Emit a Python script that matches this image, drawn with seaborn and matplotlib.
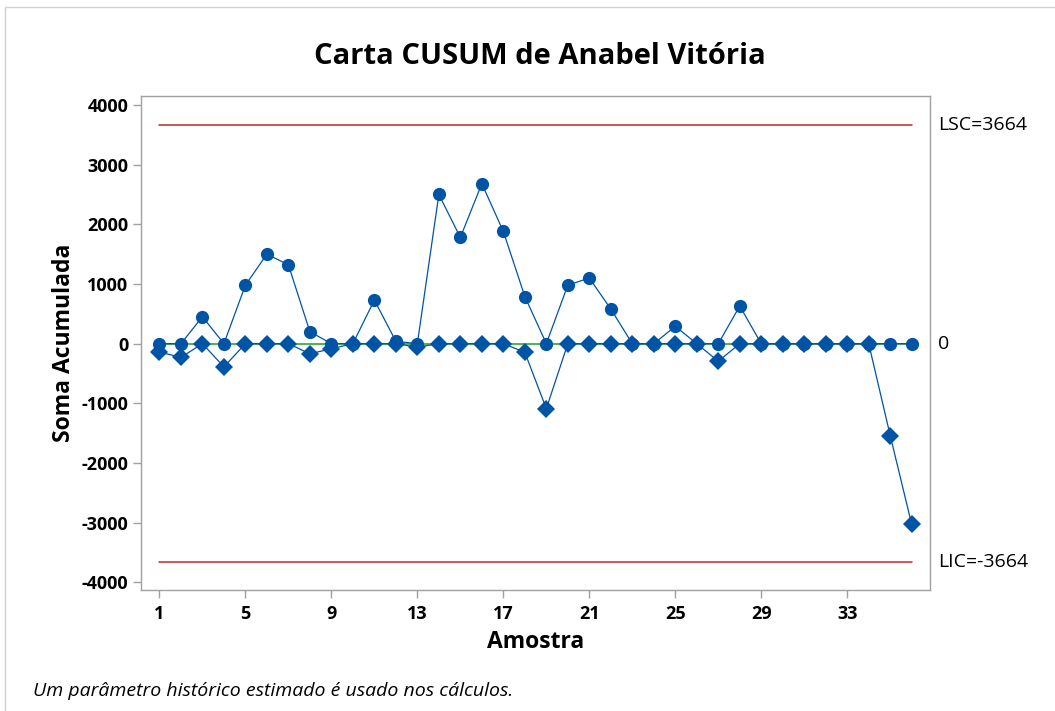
import numpy as np
import pandas as pd
import seaborn as sns
import matplotlib.pyplot as plt
from matplotlib.patches import Rectangle
import matplotlib.transforms as mtransforms

amostras = list(range(1, 37))
cusum_sup = [0, 0, 450, 0, 980, 1500, 1320, 200, 0, 0, 730, 40, 0, 2500, 1780, 2680, 1880, 790,
             0, 980, 1100, 580, 0, 0, 290, 0, 0, 630, 0, 0, 0, 0, 0, 0, 0, 0]
cusum_inf = [-140, -230, 0, -390, 0, 0, 0, -170, -85, 0, 0, 0, -60, 0, 0, 0, 0, -145,
             -1090, 0, 0, 0, 0, 0, 0, 0, -295, 0, 0, 0, 0, 0, 0, 0, -1540, -3030]
lsc = 3664
lic = -3664
centro = 0
y_ticks = [-4000, -3000, -2000, -1000, 0, 1000, 2000, 3000, 4000]
x_ticks = [1, 5, 9, 13, 17, 21, 25, 29, 33]

df = pd.DataFrame({'Amostra': amostras, 'sup': cusum_sup, 'inf': cusum_inf})

sns.set_style('white')
plt.rcParams['font.family'] = ['Open Sans', 'DejaVu Sans']
plt.rcParams['axes.unicode_minus'] = False
plt.rcParams['text.color'] = 'black'
plt.rcParams['axes.labelcolor'] = 'black'

azul = '#0054A6'
cinza = '#A0A0A0'

fig = plt.figure(figsize=(10.55, 7.11), dpi=100)
ax = fig.add_axes([0.1334, 0.170, 0.8815 - 0.1334, 0.865 - 0.170])

# limites e linha central
ax.plot([amostras[0], amostras[-1]], [lsc, lsc], color='#C0282D', lw=1.1, zorder=1)
ax.plot([amostras[0], amostras[-1]], [lic, lic], color='#C0282D', lw=1.1, zorder=1)
ax.plot([amostras[0], amostras[-1]], [centro, centro], color='#1E9E1E', lw=1.1, zorder=1)

sns.lineplot(data=df, x='Amostra', y='sup', color=azul, marker='o', markersize=9.5,
             markeredgewidth=0, linewidth=0.9, ax=ax, zorder=3)
sns.lineplot(data=df, x='Amostra', y='inf', color=azul, marker='D', markersize=9,
             markeredgewidth=0, linewidth=0.9, ax=ax, zorder=4)

ax.set_xlim(0.13, 36.85)
ax.set_ylim(-4130, 4150)
ax.set_xticks(x_ticks)
ax.set_yticks(y_ticks)
ax.tick_params(axis='both', direction='out', length=6, width=1, color=cinza,
               labelcolor='black', labelsize=13, bottom=True, left=True)
ax.tick_params(axis='y', pad=3)
ax.tick_params(axis='x', pad=5)
for lab in ax.get_xticklabels() + ax.get_yticklabels():
    lab.set_fontweight('bold')
for sp in ax.spines.values():
    sp.set_color(cinza)
    sp.set_linewidth(1)

ax.set_xlabel('Amostra', fontsize=16.5, fontweight='bold', labelpad=5)
ax.set_ylabel('Soma Acumulada', fontsize=16.5, fontweight='bold', labelpad=4)

trans = mtransforms.blended_transform_factory(ax.transAxes, ax.transData)
ax.text(1.01, lsc, 'LSC=3664', transform=trans, ha='left', va='center', fontsize=14)
ax.text(1.01, centro, '0', transform=trans, ha='left', va='center', fontsize=14)
ax.text(1.01, lic, 'LIC=-3664', transform=trans, ha='left', va='center', fontsize=14)

fig.text(0.5115, 1 - 57 / 711, 'Carta CUSUM de Anabel Vitória', ha='center', va='center',
         fontsize=21, fontweight='bold')
fig.text(33 / 1055, 1 - 691 / 711, 'Um parâmetro histórico estimado é usado nos cálculos.',
         ha='left', va='center', fontsize=14, style='italic')

fig.patches.append(Rectangle((5 / 1055, -0.05), 1.1, 1 - 7 / 711 + 0.05, transform=fig.transFigure,
                             fill=False, edgecolor='#D0D0D0', lw=1, zorder=0))

fig.savefig('out.png', dpi=100)
